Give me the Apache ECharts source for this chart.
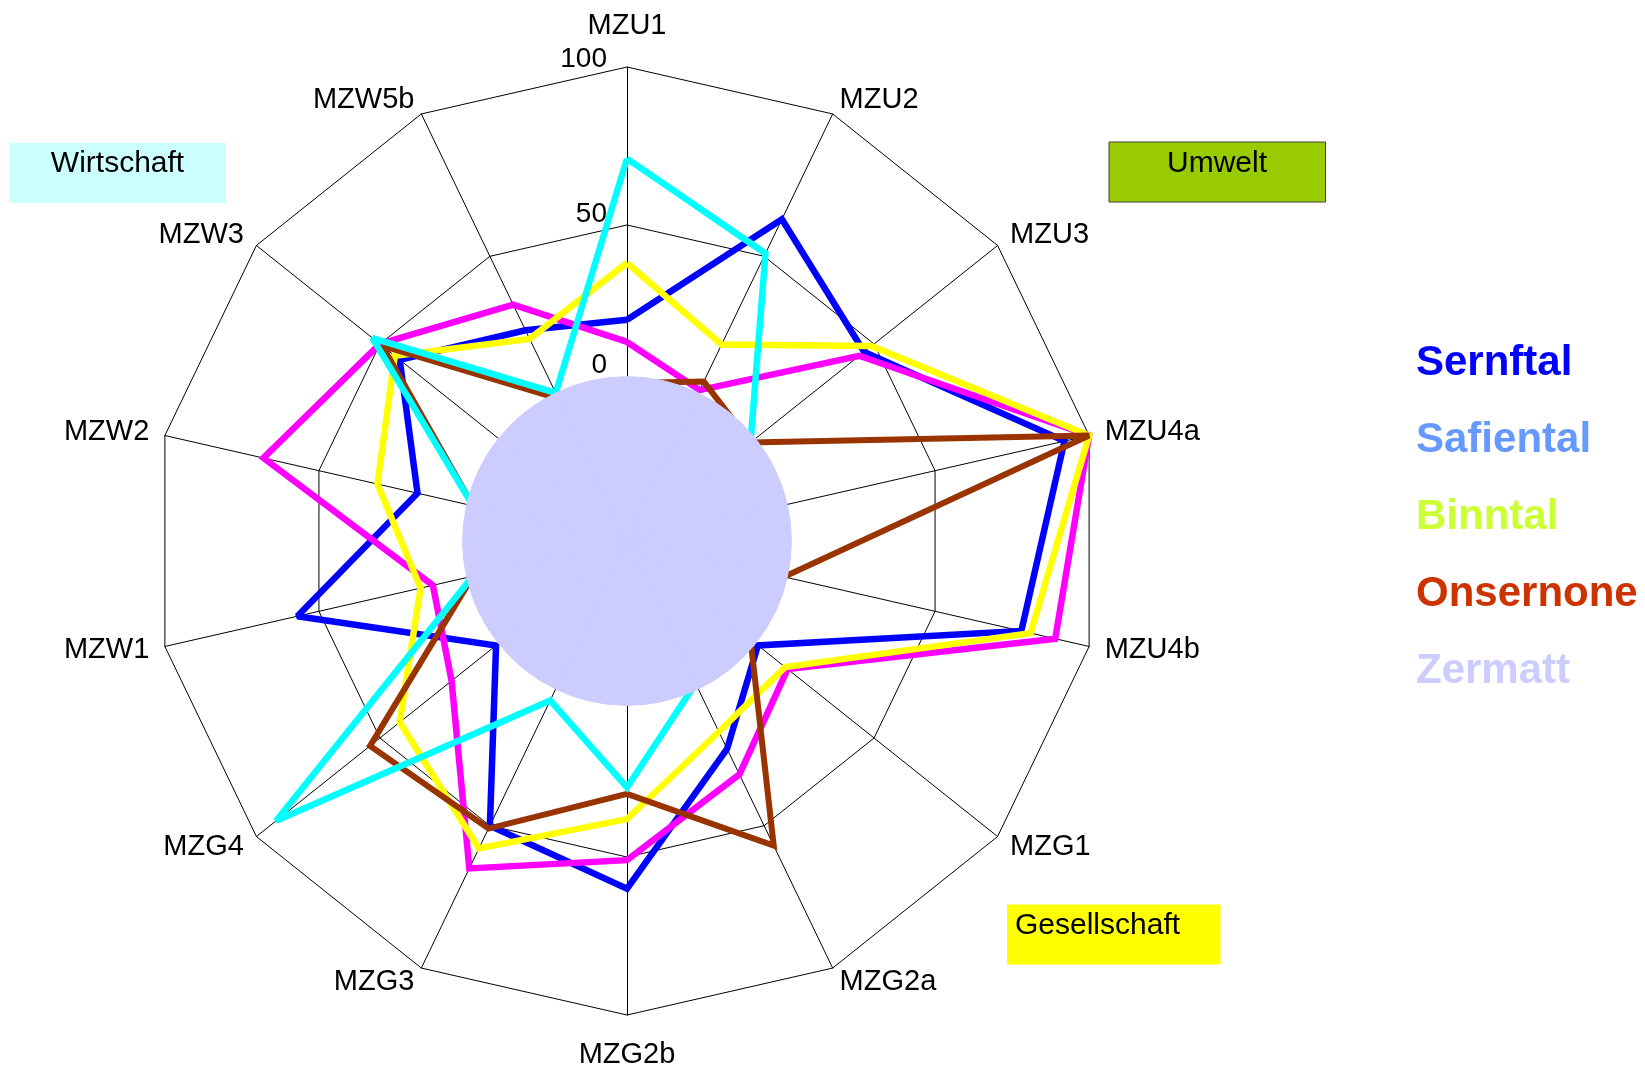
<!DOCTYPE html>
<html>
<head>
<meta charset="utf-8">
<script src="https://cdn.jsdelivr.net/npm/echarts@6/dist/echarts.min.js"></script>
<style>
  html, body { margin: 0; padding: 0; background: #ffffff; }
  #chart { width: 1645px; height: 1068px; }
</style>
</head>
<body>
<div id="chart"></div>
<script>
// ---- data (clockwise from top) ----
const indicators = ['MZU1', 'MZU2', 'MZU3', 'MZU4a', 'MZU4b', 'MZG1', 'MZG2a', 'MZG2b', 'MZG3', 'MZG4', 'MZW1', 'MZW2', 'MZW3', 'MZW5b'];
const sernftal  = [20, 63, 46, 92, 78, 3, 23, 60, 50, 3, 57, 18, 42, 24];
const safiental = [13, 3, 44, 100, 89, 15, 32, 51, 65, 21, 13, 68, 50, 33];
const binntal   = [38, 19, 49, 100, 81, 14, 17, 38, 58, 42, 17, 31, 44, 21];
const onsernone = [0, 6, 0, 100, 1, 0, 57, 30, 51, 54, 0, 0, 49, 0];
const cyanLine  = [71, 51, 0, 0, 0, 0, 0, 28, 6, 92, 0, 0, 53, 2];
const zermatt   = [2, 2, 2, 2, 2, 2, 2, 2, 2, 2, 2, 2, 2, 2];
const radialTickLabels = [0, 50, 100];
const axisMin = -50, axisMax = 100;
const legendNames = ['Sernftal', 'Safiental', 'Binntal', 'Onsernone', 'Zermatt'];
const legendColors = ['#0000ff', '#6699ff', '#ccff33', '#cc3300', '#ccccff'];

// ECharts places radar indicators counter-clockwise; reorder to get clockwise
const ccw = a => [a[0]].concat(a.slice(1).reverse());

const FONT = "'Liberation Sans', Arial, sans-serif";
const CENTER = [627, 541];
const RADIUS = 474;

const indicatorList = ccw(indicators).map(function (n) {
  const o = { name: n, min: axisMin, max: axisMax };
  if (n === 'MZU1') { o.axisLabel = { show: true }; o.nameGap = 27; }
  if (n === 'MZG2b') { o.nameGap = 25; }
  return o;
});

function lineSeries(name, values, color, width) {
  return {
    type: 'radar',
    name: name,
    symbol: 'none',
    z: 2,
    lineStyle: { color: color, width: width, join: 'miter', miterLimit: 2 },
    itemStyle: { color: color },
    data: [{ name: name, value: ccw(values) }]
  };
}

const chart = echarts.init(document.getElementById('chart'), null, { renderer: 'canvas' });
chart.setOption({
  backgroundColor: '#ffffff',
  animation: false,
  radar: {
    center: CENTER,
    radius: RADIUS,
    startAngle: 90,
    splitNumber: 3,
    shape: 'polygon',
    indicator: indicatorList,
    nameGap: 16,
    axisName: { color: '#000000', fontSize: 29, fontFamily: FONT },
    axisLine: { show: true, lineStyle: { color: '#000000', width: 1 } },
    splitLine: { show: true, lineStyle: { color: '#000000', width: 1 } },
    splitArea: { show: false },
    axisTick: { show: false },
    axisLabel: {
      show: false,
      color: '#000000',
      fontSize: 28,
      fontFamily: FONT,
      margin: 20,
      verticalAlign: 'bottom',
      formatter: function (v) { return radialTickLabels.indexOf(v) >= 0 ? '{t' + v + '|' + v + '}' : ''; },
      rich: {
        t0: { fontSize: 28, fontFamily: FONT, color: '#000', lineHeight: 36 },
        t50: { fontSize: 28, fontFamily: FONT, color: '#000', lineHeight: 21 },
        t100: { fontSize: 28, fontFamily: FONT, color: '#000', lineHeight: 15 }
      }
    }
  },
  polar: { center: CENTER, radius: RADIUS },
  angleAxis: {
    type: 'category',
    data: indicators,
    startAngle: 90,
    show: false
  },
  radiusAxis: {
    type: 'value',
    min: axisMin,
    max: axisMax,
    startValue: axisMin,
    show: false
  },
  legend: {
    orient: 'vertical',
    left: 1396,
    top: 337,
    icon: 'none',
    itemWidth: 10,
    itemHeight: 14,
    itemGap: 35,
    selectedMode: false,
    textStyle: { fontSize: 42, fontWeight: 'bold', fontFamily: FONT, lineHeight: 42 },
    data: legendNames.map(function (n, i) { return { name: n, textStyle: { color: legendColors[i] } }; })
  },
  graphic: [
    { type: 'rect', shape: { x: 9, y: 143, width: 217, height: 60 }, style: { fill: '#ccffff' } },
    { type: 'text', x: 117.5, y: 163.5, style: { text: 'Wirtschaft', fill: '#000', fontSize: 30, fontFamily: FONT, align: 'center', textAlign: 'center', verticalAlign: 'middle', textVerticalAlign: 'middle' } },
    { type: 'rect', shape: { x: 1109, y: 142, width: 216.5, height: 60 }, style: { fill: '#99cc00', stroke: '#404040', lineWidth: 1 } },
    { type: 'text', x: 1217, y: 163.5, style: { text: 'Umwelt', fill: '#000', fontSize: 30, fontFamily: FONT, align: 'center', textAlign: 'center', verticalAlign: 'middle', textVerticalAlign: 'middle' } },
    { type: 'rect', shape: { x: 1007, y: 904.5, width: 213.5, height: 60 }, style: { fill: '#ffff00' } },
    { type: 'text', x: 1015, y: 926, style: { text: 'Gesellschaft', fill: '#000', fontSize: 30, fontFamily: FONT, align: 'left', textAlign: 'left', verticalAlign: 'middle', textVerticalAlign: 'middle' } }
  ],
  series: [
    lineSeries('Sernftal', sernftal, '#0000ff', 6.5),
    lineSeries('Safiental', safiental, '#ff00ff', 6.5),
    lineSeries('Binntal', binntal, '#ffff00', 6.5),
    lineSeries('Onsernone', onsernone, '#993300', 6),
    lineSeries('Zermatt', cyanLine, '#00ffff', 6.5),
    {
      type: 'bar',
      name: 'Zermatt',
      coordinateSystem: 'polar',
      barWidth: '100%',
      barCategoryGap: '0%',
      z: 3,
      itemStyle: { color: '#ccccff', borderColor: '#ccccff', borderWidth: 1 },
      data: zermatt
    }
  ]
});
</script>
</body>
</html>
